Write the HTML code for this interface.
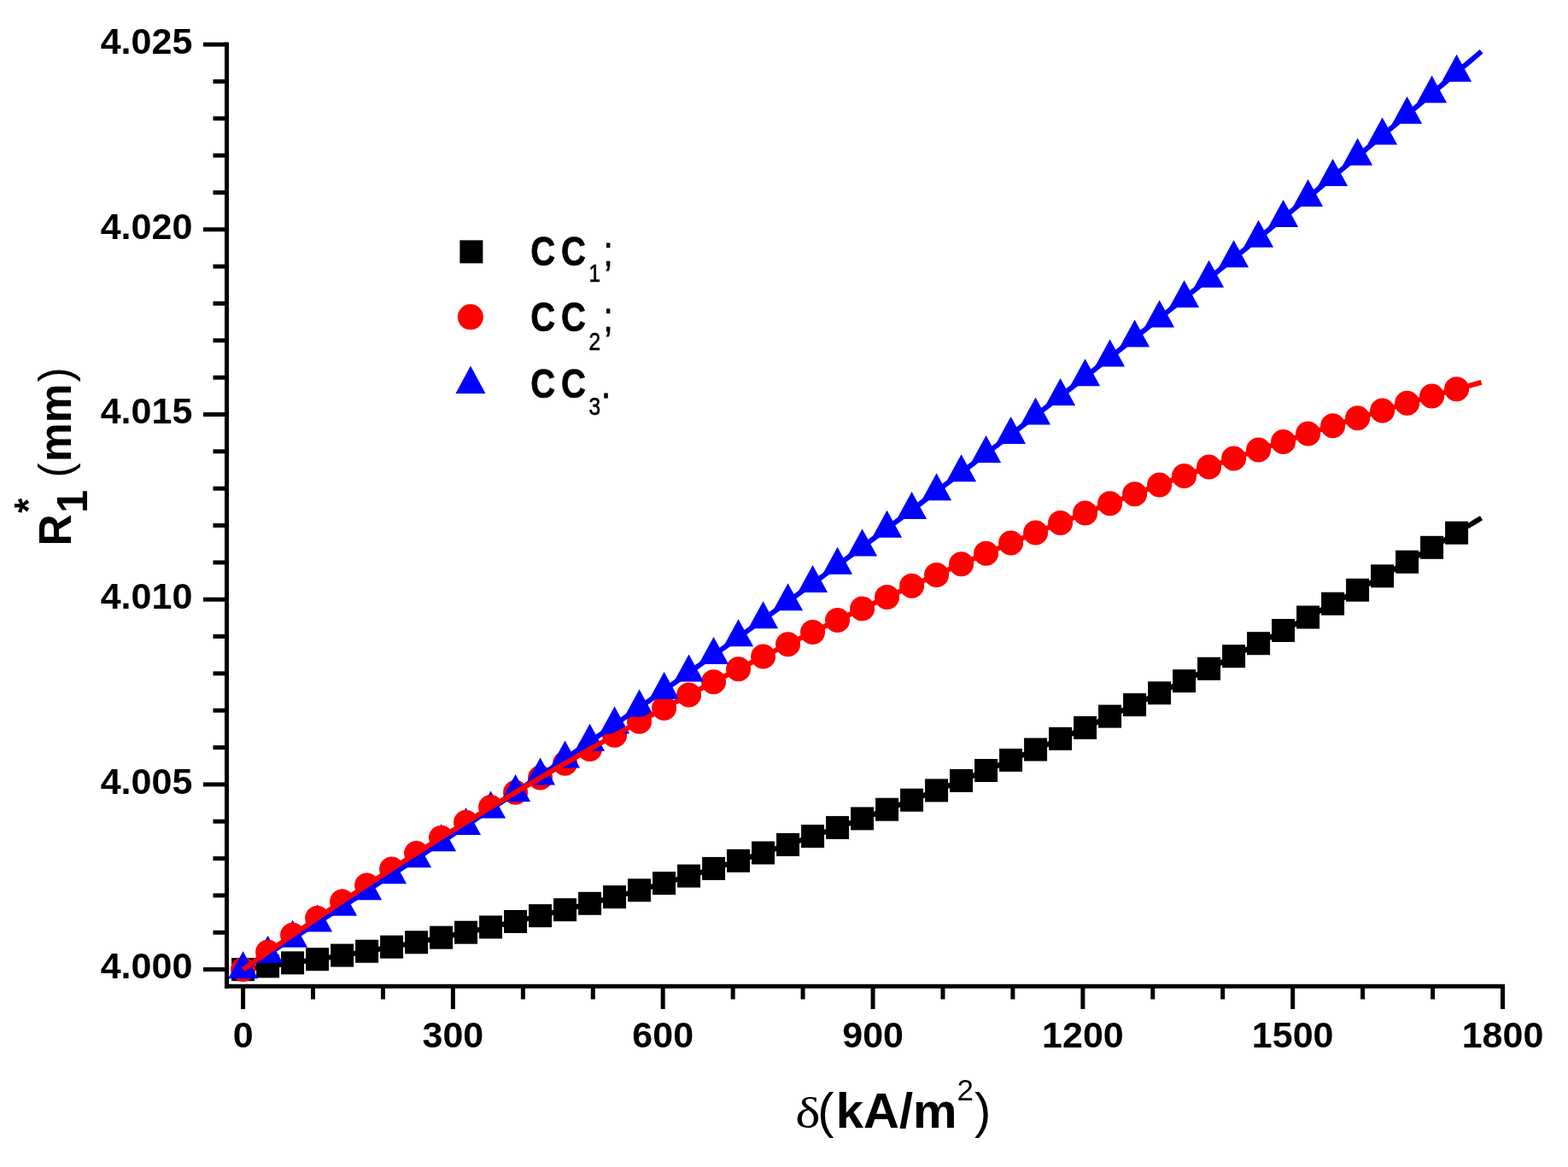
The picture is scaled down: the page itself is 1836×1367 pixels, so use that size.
<!DOCTYPE html>
<html><head><meta charset="utf-8"><title>R1* vs delta</title><style>html,body{margin:0;padding:0;background:#fff;overflow:hidden}svg{display:block}</style></head><body>
<svg width="1836" height="1367" viewBox="0 0 1836 1367">
<rect width="1836" height="1367" fill="#fff"/>
<g>
<polyline points="284.6,1135.6 291.9,1134.7 299.1,1133.8 306.4,1132.9 313.6,1131.9 320.9,1130.9 328.1,1130.0 335.4,1128.9 342.6,1127.9 349.9,1126.9 357.1,1125.8 364.4,1124.8 371.6,1123.7 378.9,1122.6 386.1,1121.4 393.4,1120.3 400.6,1119.1 407.9,1118.0 415.1,1116.8 422.4,1115.5 429.6,1114.3 436.9,1113.1 444.1,1111.8 451.4,1110.5 458.6,1109.2 465.9,1107.9 473.1,1106.6 480.4,1105.2 487.6,1103.8 494.9,1102.4 502.1,1101.0 509.4,1099.6 516.6,1098.2 523.9,1096.7 531.1,1095.2 538.4,1093.7 545.6,1092.2 552.9,1090.7 560.1,1089.2 567.4,1087.6 574.6,1086.0 581.9,1084.4 589.1,1082.8 596.4,1081.2 603.6,1079.5 610.9,1077.8 618.1,1076.1 625.4,1074.4 632.6,1072.7 639.9,1071.0 647.1,1069.2 654.4,1067.4 661.6,1065.7 668.9,1063.8 676.1,1062.0 683.4,1060.2 690.6,1058.3 697.9,1056.4 705.1,1054.5 712.4,1052.6 719.6,1050.7 726.9,1048.7 734.1,1046.8 741.4,1044.8 748.6,1042.8 755.9,1040.7 763.1,1038.7 770.4,1036.7 777.6,1034.6 784.9,1032.5 792.1,1030.4 799.4,1028.3 806.6,1026.1 813.9,1023.9 821.1,1021.8 828.4,1019.6 835.6,1017.4 842.9,1015.1 850.1,1012.9 857.4,1010.6 864.6,1008.3 871.9,1006.0 879.1,1003.7 886.4,1001.4 893.6,999.0 900.9,996.6 908.1,994.2 915.4,991.8 922.6,989.4 929.9,987.0 937.1,984.5 944.4,982.0 951.6,979.5 958.9,977.0 966.1,974.5 973.4,971.9 980.6,969.4 987.9,966.8 995.1,964.2 1002.4,961.6 1009.6,958.9 1016.9,956.3 1024.1,953.6 1031.3,950.9 1038.6,948.2 1045.8,945.5 1053.1,942.8 1060.3,940.0 1067.6,937.2 1074.8,934.4 1082.1,931.6 1089.3,928.8 1096.6,925.9 1103.8,923.1 1111.1,920.2 1118.3,917.3 1125.6,914.4 1132.8,911.4 1140.1,908.5 1147.3,905.5 1154.6,902.5 1161.8,899.5 1169.1,896.5 1176.3,893.5 1183.6,890.4 1190.8,887.3 1198.1,884.3 1205.3,881.1 1212.6,878.0 1219.8,874.9 1227.1,871.7 1234.3,868.5 1241.6,865.3 1248.8,862.1 1256.1,858.9 1263.3,855.6 1270.6,852.4 1277.8,849.1 1285.1,845.8 1292.3,842.5 1299.6,839.1 1306.8,835.8 1314.1,832.4 1321.3,829.0 1328.6,825.6 1335.8,822.2 1343.1,818.7 1350.3,815.3 1357.6,811.8 1364.8,808.3 1372.1,804.8 1379.3,801.2 1386.6,797.7 1393.8,794.1 1401.1,790.5 1408.3,786.9 1415.6,783.3 1422.8,779.7 1430.1,776.0 1437.3,772.4 1444.6,768.7 1451.8,765.0 1459.1,761.2 1466.3,757.5 1473.6,753.7 1480.8,750.0 1488.1,746.2 1495.3,742.3 1502.6,738.5 1509.8,734.7 1517.1,730.8 1524.3,726.9 1531.6,723.0 1538.8,719.1 1546.1,715.2 1553.3,711.2 1560.6,707.2 1567.8,703.3 1575.1,699.3 1582.3,695.2 1589.6,691.2 1596.8,687.1 1604.1,683.1 1611.3,679.0 1618.6,674.8 1625.8,670.7 1633.1,666.6 1640.3,662.4 1647.6,658.2 1654.8,654.0 1662.1,649.8 1669.3,645.6 1676.6,641.3 1683.8,637.1 1691.1,632.8 1698.3,628.5 1705.6,624.2 1712.8,619.8 1720.1,615.5 1727.3,611.1 1734.6,606.7" fill="none" stroke="#000" stroke-width="6" stroke-linejoin="round"/>
<rect x="271.1" y="1122.1" width="27" height="27" fill="#000"/>
<rect x="300.1" y="1118.4" width="27" height="27" fill="#000"/>
<rect x="329.1" y="1114.4" width="27" height="27" fill="#000"/>
<rect x="358.1" y="1110.2" width="27" height="27" fill="#000"/>
<rect x="387.1" y="1105.6" width="27" height="27" fill="#000"/>
<rect x="416.1" y="1100.8" width="27" height="27" fill="#000"/>
<rect x="445.1" y="1095.7" width="27" height="27" fill="#000"/>
<rect x="474.1" y="1090.3" width="27" height="27" fill="#000"/>
<rect x="503.1" y="1084.7" width="27" height="27" fill="#000"/>
<rect x="532.1" y="1078.7" width="27" height="27" fill="#000"/>
<rect x="561.1" y="1072.5" width="27" height="27" fill="#000"/>
<rect x="590.1" y="1066.0" width="27" height="27" fill="#000"/>
<rect x="619.1" y="1059.2" width="27" height="27" fill="#000"/>
<rect x="648.1" y="1052.2" width="27" height="27" fill="#000"/>
<rect x="677.1" y="1044.8" width="27" height="27" fill="#000"/>
<rect x="706.1" y="1037.2" width="27" height="27" fill="#000"/>
<rect x="735.1" y="1029.3" width="27" height="27" fill="#000"/>
<rect x="764.1" y="1021.1" width="27" height="27" fill="#000"/>
<rect x="793.1" y="1012.6" width="27" height="27" fill="#000"/>
<rect x="822.1" y="1003.9" width="27" height="27" fill="#000"/>
<rect x="851.1" y="994.8" width="27" height="27" fill="#000"/>
<rect x="880.1" y="985.5" width="27" height="27" fill="#000"/>
<rect x="909.1" y="975.9" width="27" height="27" fill="#000"/>
<rect x="938.1" y="966.0" width="27" height="27" fill="#000"/>
<rect x="967.1" y="955.9" width="27" height="27" fill="#000"/>
<rect x="996.1" y="945.4" width="27" height="27" fill="#000"/>
<rect x="1025.1" y="934.7" width="27" height="27" fill="#000"/>
<rect x="1054.1" y="923.7" width="27" height="27" fill="#000"/>
<rect x="1083.1" y="912.4" width="27" height="27" fill="#000"/>
<rect x="1112.1" y="900.9" width="27" height="27" fill="#000"/>
<rect x="1141.1" y="889.0" width="27" height="27" fill="#000"/>
<rect x="1170.1" y="876.9" width="27" height="27" fill="#000"/>
<rect x="1199.1" y="864.5" width="27" height="27" fill="#000"/>
<rect x="1228.1" y="851.8" width="27" height="27" fill="#000"/>
<rect x="1257.1" y="838.9" width="27" height="27" fill="#000"/>
<rect x="1286.1" y="825.6" width="27" height="27" fill="#000"/>
<rect x="1315.1" y="812.1" width="27" height="27" fill="#000"/>
<rect x="1344.1" y="798.3" width="27" height="27" fill="#000"/>
<rect x="1373.1" y="784.2" width="27" height="27" fill="#000"/>
<rect x="1402.1" y="769.8" width="27" height="27" fill="#000"/>
<rect x="1431.1" y="755.2" width="27" height="27" fill="#000"/>
<rect x="1460.1" y="740.2" width="27" height="27" fill="#000"/>
<rect x="1489.1" y="725.0" width="27" height="27" fill="#000"/>
<rect x="1518.1" y="709.5" width="27" height="27" fill="#000"/>
<rect x="1547.1" y="693.7" width="27" height="27" fill="#000"/>
<rect x="1576.1" y="677.7" width="27" height="27" fill="#000"/>
<rect x="1605.1" y="661.3" width="27" height="27" fill="#000"/>
<rect x="1634.1" y="644.7" width="27" height="27" fill="#000"/>
<rect x="1663.1" y="627.8" width="27" height="27" fill="#000"/>
<rect x="1692.1" y="610.7" width="27" height="27" fill="#000"/>
</g>
<defs><clipPath id="abv"><polygon points="240,0 240,1132.6 284.6,1132.6 291.9,1128.1 299.1,1123.5 306.4,1119.0 313.6,1114.5 320.9,1109.9 328.1,1105.3 335.4,1100.7 342.6,1096.2 349.9,1091.6 357.1,1087.0 364.4,1082.4 371.6,1077.7 378.9,1073.1 386.1,1068.5 393.4,1063.8 400.6,1059.2 407.9,1054.5 415.1,1049.9 422.4,1045.2 429.6,1040.5 436.9,1035.8 444.1,1031.1 451.4,1026.4 458.6,1021.7 465.9,1016.9 473.1,1012.2 480.4,1007.4 487.6,1002.7 494.9,997.9 502.1,993.1 509.4,988.4 516.6,983.6 523.9,978.8 531.1,974.0 538.4,969.1 545.6,964.3 552.9,959.5 560.1,954.6 567.4,949.8 574.6,944.9 581.9,940.1 589.1,935.2 596.4,930.3 603.6,925.4 610.9,920.5 618.1,915.6 625.4,910.7 632.6,905.8 639.9,900.8 647.1,895.9 654.4,890.9 661.6,886.0 668.9,881.0 676.1,876.0 683.4,871.0 690.6,866.0 697.9,861.0 705.1,856.0 712.4,851.0 719.6,846.0 726.9,840.9 734.1,835.9 741.4,830.8 748.6,825.8 755.9,820.7 763.1,815.6 770.4,810.5 777.6,805.4 784.9,800.3 792.1,795.2 799.4,790.1 806.6,784.9 813.9,779.8 821.1,774.6 828.4,769.5 835.6,764.3 842.9,759.1 850.1,754.0 857.4,748.8 864.6,743.6 871.9,738.4 879.1,733.1 886.4,727.9 893.6,722.7 900.9,717.4 908.1,712.2 915.4,706.9 922.6,701.6 929.9,696.4 937.1,691.1 944.4,685.8 951.6,680.5 958.9,675.2 966.1,669.8 973.4,664.5 980.6,659.2 987.9,653.8 995.1,648.5 1002.4,643.1 1009.6,637.7 1016.9,632.4 1024.1,627.0 1031.3,621.6 1038.6,616.2 1045.8,610.7 1053.1,605.3 1060.3,599.9 1067.6,594.4 1074.8,589.0 1082.1,583.5 1089.3,578.1 1096.6,572.6 1103.8,567.1 1111.1,561.6 1118.3,556.1 1125.6,550.6 1132.8,545.1 1140.1,539.6 1147.3,534.0 1154.6,528.5 1161.8,522.9 1169.1,517.4 1176.3,511.8 1183.6,506.2 1190.8,500.6 1198.1,495.0 1205.3,489.4 1212.6,483.8 1219.8,478.2 1227.1,472.6 1234.3,466.9 1241.6,461.3 1248.8,455.6 1256.1,450.0 1263.3,444.3 1270.6,438.6 1277.8,432.9 1285.1,427.2 1292.3,421.5 1299.6,415.8 1306.8,410.1 1314.1,404.3 1321.3,398.6 1328.6,392.8 1335.8,387.1 1343.1,381.3 1350.3,375.5 1357.6,369.8 1364.8,364.0 1372.1,358.2 1379.3,352.4 1386.6,346.5 1393.8,340.7 1401.1,334.9 1408.3,329.0 1415.6,323.2 1422.8,317.3 1430.1,311.4 1437.3,305.6 1444.6,299.7 1451.8,293.8 1459.1,287.9 1466.3,282.0 1473.6,276.0 1480.8,270.1 1488.1,264.2 1495.3,258.2 1502.6,252.3 1509.8,246.3 1517.1,240.3 1524.3,234.4 1531.6,228.4 1538.8,222.4 1546.1,216.4 1553.3,210.3 1560.6,204.3 1567.8,198.3 1575.1,192.2 1582.3,186.2 1589.6,180.1 1596.8,174.1 1604.1,168.0 1611.3,161.9 1618.6,155.8 1625.8,149.7 1633.1,143.6 1640.3,137.5 1647.6,131.4 1654.8,125.2 1662.1,119.1 1669.3,112.9 1676.6,106.8 1683.8,100.6 1691.1,94.4 1698.3,88.2 1705.6,82.0 1712.8,75.8 1720.1,69.6 1727.3,63.4 1734.6,57.2 1800,0"/></clipPath></defs>
<g>
<circle cx="284.6" cy="1135.6" r="14.5" fill="#f00"/>
<circle cx="603.6" cy="928.2" r="14.5" fill="#f00"/>
<circle cx="632.6" cy="911.1" r="14.5" fill="#f00"/>
<circle cx="661.6" cy="894.2" r="14.5" fill="#f00"/>
<circle cx="690.6" cy="877.6" r="14.5" fill="#f00"/>
<circle cx="719.6" cy="861.3" r="14.5" fill="#f00"/>
<circle cx="748.6" cy="845.3" r="14.5" fill="#f00"/>
<circle cx="777.6" cy="829.5" r="14.5" fill="#f00"/>
<circle cx="806.6" cy="814.0" r="14.5" fill="#f00"/>
<circle cx="835.6" cy="798.8" r="14.5" fill="#f00"/>
<circle cx="864.6" cy="783.8" r="14.5" fill="#f00"/>
<circle cx="893.6" cy="769.1" r="14.5" fill="#f00"/>
<circle cx="922.6" cy="754.7" r="14.5" fill="#f00"/>
<circle cx="951.6" cy="740.5" r="14.5" fill="#f00"/>
<circle cx="980.6" cy="726.6" r="14.5" fill="#f00"/>
<circle cx="1009.6" cy="712.9" r="14.5" fill="#f00"/>
<circle cx="1038.6" cy="699.5" r="14.5" fill="#f00"/>
<circle cx="1067.6" cy="686.3" r="14.5" fill="#f00"/>
<circle cx="1096.6" cy="673.4" r="14.5" fill="#f00"/>
<circle cx="1125.6" cy="660.7" r="14.5" fill="#f00"/>
<circle cx="1154.6" cy="648.3" r="14.5" fill="#f00"/>
<circle cx="1183.6" cy="636.1" r="14.5" fill="#f00"/>
<circle cx="1212.6" cy="624.1" r="14.5" fill="#f00"/>
<circle cx="1241.6" cy="612.4" r="14.5" fill="#f00"/>
<circle cx="1270.6" cy="600.9" r="14.5" fill="#f00"/>
<circle cx="1299.6" cy="589.7" r="14.5" fill="#f00"/>
<circle cx="1328.6" cy="578.7" r="14.5" fill="#f00"/>
<circle cx="1357.6" cy="567.9" r="14.5" fill="#f00"/>
<circle cx="1386.6" cy="557.4" r="14.5" fill="#f00"/>
<circle cx="1415.6" cy="547.0" r="14.5" fill="#f00"/>
<circle cx="1444.6" cy="536.9" r="14.5" fill="#f00"/>
<circle cx="1473.6" cy="527.1" r="14.5" fill="#f00"/>
<circle cx="1502.6" cy="517.4" r="14.5" fill="#f00"/>
<circle cx="1531.6" cy="508.0" r="14.5" fill="#f00"/>
<circle cx="1560.6" cy="498.7" r="14.5" fill="#f00"/>
<circle cx="1589.6" cy="489.7" r="14.5" fill="#f00"/>
<circle cx="1618.6" cy="480.9" r="14.5" fill="#f00"/>
<circle cx="1647.6" cy="472.3" r="14.5" fill="#f00"/>
<circle cx="1676.6" cy="464.0" r="14.5" fill="#f00"/>
<circle cx="1705.6" cy="455.8" r="14.5" fill="#f00"/>
</g><g>
<polygon points="284.6,1114.3 267.1,1146.3 302.1,1146.3" fill="#00f"/>
<polygon points="313.6,1096.1 296.1,1128.1 331.1,1128.1" fill="#00f"/>
<polygon points="342.6,1077.8 325.1,1109.8 360.1,1109.8" fill="#00f"/>
<polygon points="371.6,1059.4 354.1,1091.4 389.1,1091.4" fill="#00f"/>
<polygon points="400.6,1040.8 383.1,1072.8 418.1,1072.8" fill="#00f"/>
<polygon points="429.6,1022.2 412.1,1054.2 447.1,1054.2" fill="#00f"/>
<polygon points="458.6,1003.3 441.1,1035.3 476.1,1035.3" fill="#00f"/>
<polygon points="487.6,984.3 470.1,1016.3 505.1,1016.3" fill="#00f"/>
<polygon points="516.6,965.2 499.1,997.2 534.1,997.2" fill="#00f"/>
<polygon points="545.6,946.0 528.1,978.0 563.1,978.0" fill="#00f"/>
<polygon points="574.6,926.6 557.1,958.6 592.1,958.6" fill="#00f"/>
<polygon points="603.6,907.1 586.1,939.1 621.1,939.1" fill="#00f"/>
<polygon points="632.6,887.4 615.1,919.4 650.1,919.4" fill="#00f"/>
<polygon points="661.6,867.6 644.1,899.6 679.1,899.6" fill="#00f"/>
<polygon points="690.6,847.7 673.1,879.7 708.1,879.7" fill="#00f"/>
<polygon points="719.6,827.6 702.1,859.6 737.1,859.6" fill="#00f"/>
<polygon points="748.6,807.4 731.1,839.4 766.1,839.4" fill="#00f"/>
<polygon points="777.6,787.1 760.1,819.1 795.1,819.1" fill="#00f"/>
<polygon points="806.6,766.6 789.1,798.6 824.1,798.6" fill="#00f"/>
<polygon points="835.6,746.0 818.1,778.0 853.1,778.0" fill="#00f"/>
<polygon points="864.6,725.2 847.1,757.2 882.1,757.2" fill="#00f"/>
<polygon points="893.6,704.3 876.1,736.3 911.1,736.3" fill="#00f"/>
<polygon points="922.6,683.3 905.1,715.3 940.1,715.3" fill="#00f"/>
<polygon points="951.6,662.1 934.1,694.1 969.1,694.1" fill="#00f"/>
<polygon points="980.6,640.8 963.1,672.8 998.1,672.8" fill="#00f"/>
<polygon points="1009.6,619.4 992.1,651.4 1027.1,651.4" fill="#00f"/>
<polygon points="1038.6,597.8 1021.1,629.8 1056.1,629.8" fill="#00f"/>
<polygon points="1067.6,576.1 1050.1,608.1 1085.1,608.1" fill="#00f"/>
<polygon points="1096.6,554.3 1079.1,586.3 1114.1,586.3" fill="#00f"/>
<polygon points="1125.6,532.3 1108.1,564.3 1143.1,564.3" fill="#00f"/>
<polygon points="1154.6,510.1 1137.1,542.1 1172.1,542.1" fill="#00f"/>
<polygon points="1183.6,487.9 1166.1,519.9 1201.1,519.9" fill="#00f"/>
<polygon points="1212.6,465.5 1195.1,497.5 1230.1,497.5" fill="#00f"/>
<polygon points="1241.6,442.9 1224.1,474.9 1259.1,474.9" fill="#00f"/>
<polygon points="1270.6,420.3 1253.1,452.3 1288.1,452.3" fill="#00f"/>
<polygon points="1299.6,397.5 1282.1,429.5 1317.1,429.5" fill="#00f"/>
<polygon points="1328.6,374.5 1311.1,406.5 1346.1,406.5" fill="#00f"/>
<polygon points="1357.6,351.4 1340.1,383.4 1375.1,383.4" fill="#00f"/>
<polygon points="1386.6,328.2 1369.1,360.2 1404.1,360.2" fill="#00f"/>
<polygon points="1415.6,304.8 1398.1,336.8 1433.1,336.8" fill="#00f"/>
<polygon points="1444.6,281.3 1427.1,313.3 1462.1,313.3" fill="#00f"/>
<polygon points="1473.6,257.7 1456.1,289.7 1491.1,289.7" fill="#00f"/>
<polygon points="1502.6,233.9 1485.1,265.9 1520.1,265.9" fill="#00f"/>
<polygon points="1531.6,210.0 1514.1,242.0 1549.1,242.0" fill="#00f"/>
<polygon points="1560.6,186.0 1543.1,218.0 1578.1,218.0" fill="#00f"/>
<polygon points="1589.6,161.8 1572.1,193.8 1607.1,193.8" fill="#00f"/>
<polygon points="1618.6,137.5 1601.1,169.5 1636.1,169.5" fill="#00f"/>
<polygon points="1647.6,113.0 1630.1,145.0 1665.1,145.0" fill="#00f"/>
<polygon points="1676.6,88.4 1659.1,120.4 1694.1,120.4" fill="#00f"/>
<polygon points="1705.6,63.7 1688.1,95.7 1723.1,95.7" fill="#00f"/>
</g>
<g clip-path="url(#abv)">
<circle cx="313.6" cy="1115.3" r="14.5" fill="#f00"/>
<circle cx="342.6" cy="1095.3" r="14.5" fill="#f00"/>
<circle cx="371.6" cy="1075.5" r="14.5" fill="#f00"/>
<circle cx="400.6" cy="1056.1" r="14.5" fill="#f00"/>
<circle cx="429.6" cy="1037.0" r="14.5" fill="#f00"/>
<circle cx="458.6" cy="1018.1" r="14.5" fill="#f00"/>
<circle cx="487.6" cy="999.6" r="14.5" fill="#f00"/>
<circle cx="516.6" cy="981.3" r="14.5" fill="#f00"/>
<circle cx="545.6" cy="963.3" r="14.5" fill="#f00"/>
<circle cx="574.6" cy="945.6" r="14.5" fill="#f00"/>
</g>
<polyline points="284.6,1135.6 291.9,1131.1 299.1,1126.5 306.4,1122.0 313.6,1117.5 320.9,1112.9 328.1,1108.3 335.4,1103.7 342.6,1099.2 349.9,1094.6 357.1,1090.0 364.4,1085.4 371.6,1080.7 378.9,1076.1 386.1,1071.5 393.4,1066.8 400.6,1062.2 407.9,1057.5 415.1,1052.9 422.4,1048.2 429.6,1043.5 436.9,1038.8 444.1,1034.1 451.4,1029.4 458.6,1024.7 465.9,1019.9 473.1,1015.2 480.4,1010.4 487.6,1005.7 494.9,1000.9 502.1,996.1 509.4,991.4 516.6,986.6 523.9,981.8 531.1,977.0 538.4,972.1 545.6,967.3 552.9,962.5 560.1,957.6 567.4,952.8 574.6,947.9 581.9,943.1 589.1,938.2 596.4,933.3 603.6,928.4 610.9,923.5 618.1,918.6 625.4,913.7 632.6,908.8 639.9,903.8 647.1,898.9 654.4,893.9 661.6,889.0 668.9,884.0 676.1,879.0 683.4,874.0 690.6,869.0 697.9,864.0 705.1,859.0 712.4,854.0 719.6,849.0 726.9,843.9 734.1,838.9 741.4,833.8 748.6,828.8 755.9,823.7 763.1,818.6 770.4,813.5 777.6,808.4 784.9,803.3 792.1,798.2 799.4,793.1 806.6,787.9 813.9,782.8 821.1,777.6 828.4,772.5 835.6,767.3 842.9,762.1 850.1,757.0 857.4,751.8 864.6,746.6 871.9,741.4 879.1,736.1 886.4,730.9 893.6,725.7 900.9,720.4 908.1,715.2 915.4,709.9 922.6,704.6 929.9,699.4 937.1,694.1 944.4,688.8 951.6,683.5 958.9,678.2 966.1,672.8 973.4,667.5 980.6,662.2 987.9,656.8 995.1,651.5 1002.4,646.1 1009.6,640.7 1016.9,635.4 1024.1,630.0 1031.3,624.6 1038.6,619.2 1045.8,613.7 1053.1,608.3 1060.3,602.9 1067.6,597.4 1074.8,592.0 1082.1,586.5 1089.3,581.1 1096.6,575.6 1103.8,570.1 1111.1,564.6 1118.3,559.1 1125.6,553.6 1132.8,548.1 1140.1,542.6 1147.3,537.0 1154.6,531.5 1161.8,525.9 1169.1,520.4 1176.3,514.8 1183.6,509.2 1190.8,503.6 1198.1,498.0 1205.3,492.4 1212.6,486.8 1219.8,481.2 1227.1,475.6 1234.3,469.9 1241.6,464.3 1248.8,458.6 1256.1,453.0 1263.3,447.3 1270.6,441.6 1277.8,435.9 1285.1,430.2 1292.3,424.5 1299.6,418.8 1306.8,413.1 1314.1,407.3 1321.3,401.6 1328.6,395.8 1335.8,390.1 1343.1,384.3 1350.3,378.5 1357.6,372.8 1364.8,367.0 1372.1,361.2 1379.3,355.4 1386.6,349.5 1393.8,343.7 1401.1,337.9 1408.3,332.0 1415.6,326.2 1422.8,320.3 1430.1,314.4 1437.3,308.6 1444.6,302.7 1451.8,296.8 1459.1,290.9 1466.3,285.0 1473.6,279.0 1480.8,273.1 1488.1,267.2 1495.3,261.2 1502.6,255.3 1509.8,249.3 1517.1,243.3 1524.3,237.4 1531.6,231.4 1538.8,225.4 1546.1,219.4 1553.3,213.3 1560.6,207.3 1567.8,201.3 1575.1,195.2 1582.3,189.2 1589.6,183.1 1596.8,177.1 1604.1,171.0 1611.3,164.9 1618.6,158.8 1625.8,152.7 1633.1,146.6 1640.3,140.5 1647.6,134.4 1654.8,128.2 1662.1,122.1 1669.3,115.9 1676.6,109.8 1683.8,103.6 1691.1,97.4 1698.3,91.2 1705.6,85.0 1712.8,78.8 1720.1,72.6 1727.3,66.4 1734.6,60.2" fill="none" stroke="#00f" stroke-width="6" stroke-linejoin="round"/>
<polyline points="284.6,1135.6 291.9,1130.5 299.1,1125.4 306.4,1120.3 313.6,1115.3 320.9,1110.2 328.1,1105.2 335.4,1100.2 342.6,1095.3 349.9,1090.3 357.1,1085.4 364.4,1080.4 371.6,1075.5 378.9,1070.6 386.1,1065.8 393.4,1060.9 400.6,1056.1 407.9,1051.3 415.1,1046.5 422.4,1041.7 429.6,1037.0 436.9,1032.2 444.1,1027.5 451.4,1022.8 458.6,1018.1 465.9,1013.5 473.1,1008.8 480.4,1004.2 487.6,999.6 494.9,995.0 502.1,990.4 509.4,985.8 516.6,981.3 523.9,976.8 531.1,972.3 538.4,967.8 545.6,963.3 552.9,958.9 560.1,954.4 567.4,950.0 574.6,945.6 581.9,941.2 589.1,936.9 596.4,932.5 603.6,928.2 610.9,923.9 618.1,919.6 625.4,915.3 632.6,911.1 639.9,906.8 647.1,902.6 654.4,898.4 661.6,894.2 668.9,890.1 676.1,885.9 683.4,881.8 690.6,877.6 697.9,873.5 705.1,869.5 712.4,865.4 719.6,861.3 726.9,857.3 734.1,853.3 741.4,849.3 748.6,845.3 755.9,841.3 763.1,837.4 770.4,833.5 777.6,829.5 784.9,825.6 792.1,821.8 799.4,817.9 806.6,814.0 813.9,810.2 821.1,806.4 828.4,802.6 835.6,798.8 842.9,795.0 850.1,791.3 857.4,787.6 864.6,783.8 871.9,780.1 879.1,776.5 886.4,772.8 893.6,769.1 900.9,765.5 908.1,761.9 915.4,758.3 922.6,754.7 929.9,751.1 937.1,747.6 944.4,744.0 951.6,740.5 958.9,737.0 966.1,733.5 973.4,730.0 980.6,726.6 987.9,723.1 995.1,719.7 1002.4,716.3 1009.6,712.9 1016.9,709.5 1024.1,706.2 1031.3,702.8 1038.6,699.5 1045.8,696.2 1053.1,692.9 1060.3,689.6 1067.6,686.3 1074.8,683.1 1082.1,679.8 1089.3,676.6 1096.6,673.4 1103.8,670.2 1111.1,667.0 1118.3,663.9 1125.6,660.7 1132.8,657.6 1140.1,654.5 1147.3,651.4 1154.6,648.3 1161.8,645.2 1169.1,642.2 1176.3,639.1 1183.6,636.1 1190.8,633.1 1198.1,630.1 1205.3,627.1 1212.6,624.1 1219.8,621.2 1227.1,618.2 1234.3,615.3 1241.6,612.4 1248.8,609.5 1256.1,606.7 1263.3,603.8 1270.6,600.9 1277.8,598.1 1285.1,595.3 1292.3,592.5 1299.6,589.7 1306.8,586.9 1314.1,584.2 1321.3,581.4 1328.6,578.7 1335.8,576.0 1343.1,573.3 1350.3,570.6 1357.6,567.9 1364.8,565.2 1372.1,562.6 1379.3,560.0 1386.6,557.4 1393.8,554.8 1401.1,552.2 1408.3,549.6 1415.6,547.0 1422.8,544.5 1430.1,542.0 1437.3,539.4 1444.6,536.9 1451.8,534.4 1459.1,532.0 1466.3,529.5 1473.6,527.1 1480.8,524.6 1488.1,522.2 1495.3,519.8 1502.6,517.4 1509.8,515.0 1517.1,512.6 1524.3,510.3 1531.6,508.0 1538.8,505.6 1546.1,503.3 1553.3,501.0 1560.6,498.7 1567.8,496.5 1575.1,494.2 1582.3,492.0 1589.6,489.7 1596.8,487.5 1604.1,485.3 1611.3,483.1 1618.6,480.9 1625.8,478.8 1633.1,476.6 1640.3,474.5 1647.6,472.3 1654.8,470.2 1662.1,468.1 1669.3,466.0 1676.6,464.0 1683.8,461.9 1691.1,459.8 1698.3,457.8 1705.6,455.8 1712.8,453.8 1720.1,451.8 1727.3,449.8 1734.6,447.8" fill="none" stroke="#f00" stroke-width="6" stroke-linejoin="round"/>
<rect x="263" y="49.5" width="5" height="1108.3" fill="#000"/>
<rect x="263" y="1152.8" width="1499" height="5" fill="#000"/>
<rect x="238" y="1133.1" width="27" height="5" fill="#000"/>
<rect x="249.5" y="1089.8" width="15" height="5" fill="#000"/>
<rect x="249.5" y="1046.4" width="15" height="5" fill="#000"/>
<rect x="249.5" y="1003.1" width="15" height="5" fill="#000"/>
<rect x="249.5" y="959.7" width="15" height="5" fill="#000"/>
<rect x="238" y="916.4" width="27" height="5" fill="#000"/>
<rect x="249.5" y="873.1" width="15" height="5" fill="#000"/>
<rect x="249.5" y="829.7" width="15" height="5" fill="#000"/>
<rect x="249.5" y="786.4" width="15" height="5" fill="#000"/>
<rect x="249.5" y="743.0" width="15" height="5" fill="#000"/>
<rect x="238" y="699.7" width="27" height="5" fill="#000"/>
<rect x="249.5" y="656.4" width="15" height="5" fill="#000"/>
<rect x="249.5" y="613.0" width="15" height="5" fill="#000"/>
<rect x="249.5" y="569.7" width="15" height="5" fill="#000"/>
<rect x="249.5" y="526.3" width="15" height="5" fill="#000"/>
<rect x="238" y="483.0" width="27" height="5" fill="#000"/>
<rect x="249.5" y="439.7" width="15" height="5" fill="#000"/>
<rect x="249.5" y="396.3" width="15" height="5" fill="#000"/>
<rect x="249.5" y="353.0" width="15" height="5" fill="#000"/>
<rect x="249.5" y="309.6" width="15" height="5" fill="#000"/>
<rect x="238" y="266.3" width="27" height="5" fill="#000"/>
<rect x="249.5" y="223.0" width="15" height="5" fill="#000"/>
<rect x="249.5" y="179.6" width="15" height="5" fill="#000"/>
<rect x="249.5" y="136.3" width="15" height="5" fill="#000"/>
<rect x="249.5" y="92.9" width="15" height="5" fill="#000"/>
<rect x="238" y="49.6" width="27" height="5" fill="#000"/>
<rect x="282.1" y="1155.3" width="5" height="26.7" fill="#000"/>
<rect x="364.0" y="1155.3" width="5" height="15.2" fill="#000"/>
<rect x="446.0" y="1155.3" width="5" height="15.2" fill="#000"/>
<rect x="527.9" y="1155.3" width="5" height="26.7" fill="#000"/>
<rect x="609.9" y="1155.3" width="5" height="15.2" fill="#000"/>
<rect x="691.8" y="1155.3" width="5" height="15.2" fill="#000"/>
<rect x="773.7" y="1155.3" width="5" height="26.7" fill="#000"/>
<rect x="855.7" y="1155.3" width="5" height="15.2" fill="#000"/>
<rect x="937.6" y="1155.3" width="5" height="15.2" fill="#000"/>
<rect x="1019.6" y="1155.3" width="5" height="26.7" fill="#000"/>
<rect x="1101.5" y="1155.3" width="5" height="15.2" fill="#000"/>
<rect x="1183.4" y="1155.3" width="5" height="15.2" fill="#000"/>
<rect x="1265.4" y="1155.3" width="5" height="26.7" fill="#000"/>
<rect x="1347.3" y="1155.3" width="5" height="15.2" fill="#000"/>
<rect x="1429.2" y="1155.3" width="5" height="15.2" fill="#000"/>
<rect x="1511.2" y="1155.3" width="5" height="26.7" fill="#000"/>
<rect x="1593.1" y="1155.3" width="5" height="15.2" fill="#000"/>
<rect x="1675.1" y="1155.3" width="5" height="15.2" fill="#000"/>
<rect x="1757.0" y="1155.3" width="5" height="26.7" fill="#000"/>
<text x="225.3" y="1146.3" font-family="'Liberation Sans', Arial, Helvetica, sans-serif" font-weight="bold" font-size="43" text-anchor="end">4.000</text>
<text x="225.3" y="929.6" font-family="'Liberation Sans', Arial, Helvetica, sans-serif" font-weight="bold" font-size="43" text-anchor="end">4.005</text>
<text x="225.3" y="712.9" font-family="'Liberation Sans', Arial, Helvetica, sans-serif" font-weight="bold" font-size="43" text-anchor="end">4.010</text>
<text x="225.3" y="496.2" font-family="'Liberation Sans', Arial, Helvetica, sans-serif" font-weight="bold" font-size="43" text-anchor="end">4.015</text>
<text x="225.3" y="279.5" font-family="'Liberation Sans', Arial, Helvetica, sans-serif" font-weight="bold" font-size="43" text-anchor="end">4.020</text>
<text x="225.3" y="62.8" font-family="'Liberation Sans', Arial, Helvetica, sans-serif" font-weight="bold" font-size="43" text-anchor="end">4.025</text>
<text x="284.6" y="1226.8" font-family="'Liberation Sans', Arial, Helvetica, sans-serif" font-weight="bold" font-size="43" text-anchor="middle">0</text>
<text x="530.4" y="1226.8" font-family="'Liberation Sans', Arial, Helvetica, sans-serif" font-weight="bold" font-size="43" text-anchor="middle">300</text>
<text x="776.2" y="1226.8" font-family="'Liberation Sans', Arial, Helvetica, sans-serif" font-weight="bold" font-size="43" text-anchor="middle">600</text>
<text x="1022.1" y="1226.8" font-family="'Liberation Sans', Arial, Helvetica, sans-serif" font-weight="bold" font-size="43" text-anchor="middle">900</text>
<text x="1267.9" y="1226.8" font-family="'Liberation Sans', Arial, Helvetica, sans-serif" font-weight="bold" font-size="43" text-anchor="middle">1200</text>
<text x="1513.7" y="1226.8" font-family="'Liberation Sans', Arial, Helvetica, sans-serif" font-weight="bold" font-size="43" text-anchor="middle">1500</text>
<text x="1759.5" y="1226.8" font-family="'Liberation Sans', Arial, Helvetica, sans-serif" font-weight="bold" font-size="43" text-anchor="middle">1800</text>
<text transform="translate(931.2,1320.6) scale(1.23,1)" font-family="'Liberation Serif', 'Times New Roman', serif" font-size="50.5">δ</text>
<text y="1320.8" font-family="'Liberation Sans', Arial, Helvetica, sans-serif" font-size="58"><tspan x="957.2">(</tspan><tspan x="978.8" font-weight="bold">kA/m</tspan><tspan x="1120.5" y="1288.8" font-size="35">2</tspan><tspan x="1141.0" y="1320.8">)</tspan></text>
<g transform="translate(82.8,636) rotate(-90)"><g transform="scale(0.97,1)"><text y="0" font-family="'Liberation Sans', Arial, Helvetica, sans-serif" font-size="53"><tspan x="-3.6" font-weight="bold">R</tspan><tspan x="36.3" y="18.9" font-weight="bold" font-size="50">1</tspan><tspan x="36.2" y="-33.7" font-weight="bold" font-size="46">*</tspan><tspan x="78.9" y="0">(</tspan><tspan x="98.0" font-weight="bold">mm</tspan><tspan x="194.3">)</tspan></text></g></g>
<rect x="538.4" y="281.4" width="27" height="27" fill="#000"/>
<circle cx="550.9" cy="371.3" r="15" fill="#f00"/>
<polygon points="551.0,428.5 533.5,461.0 568.5,461.0" fill="#00f"/>
<g transform="translate(621.3,310.5) scale(0.845,1)" font-family="'Liberation Sans', Arial, Helvetica, sans-serif"><text x="0" y="0" font-size="47.5" font-weight="bold" stroke="#000" stroke-width="0.7" letter-spacing="7.95">CC</text><text x="80.7" y="19.5" font-size="29" stroke="#000" stroke-width="0.6">1</text><text x="100.7" y="0" font-size="47.5" stroke="#000" stroke-width="0.8">;</text></g>
<g transform="translate(621.3,388) scale(0.845,1)" font-family="'Liberation Sans', Arial, Helvetica, sans-serif"><text x="0" y="0" font-size="47.5" font-weight="bold" stroke="#000" stroke-width="0.7" letter-spacing="7.95">CC</text><text x="80.7" y="21.5" font-size="29" stroke="#000" stroke-width="0.6">2</text><text x="100.7" y="0" font-size="47.5" stroke="#000" stroke-width="0.8">;</text></g>
<g transform="translate(621.3,466.3) scale(0.845,1)" font-family="'Liberation Sans', Arial, Helvetica, sans-serif"><text x="0" y="0" font-size="47.5" font-weight="bold" stroke="#000" stroke-width="0.7" letter-spacing="7.95">CC</text><text x="80.7" y="19.2" font-size="29" stroke="#000" stroke-width="0.6">3</text><text x="97.9" y="0" font-size="47.5" stroke="#000" stroke-width="0.8">.</text></g>
</svg>
</body></html>
